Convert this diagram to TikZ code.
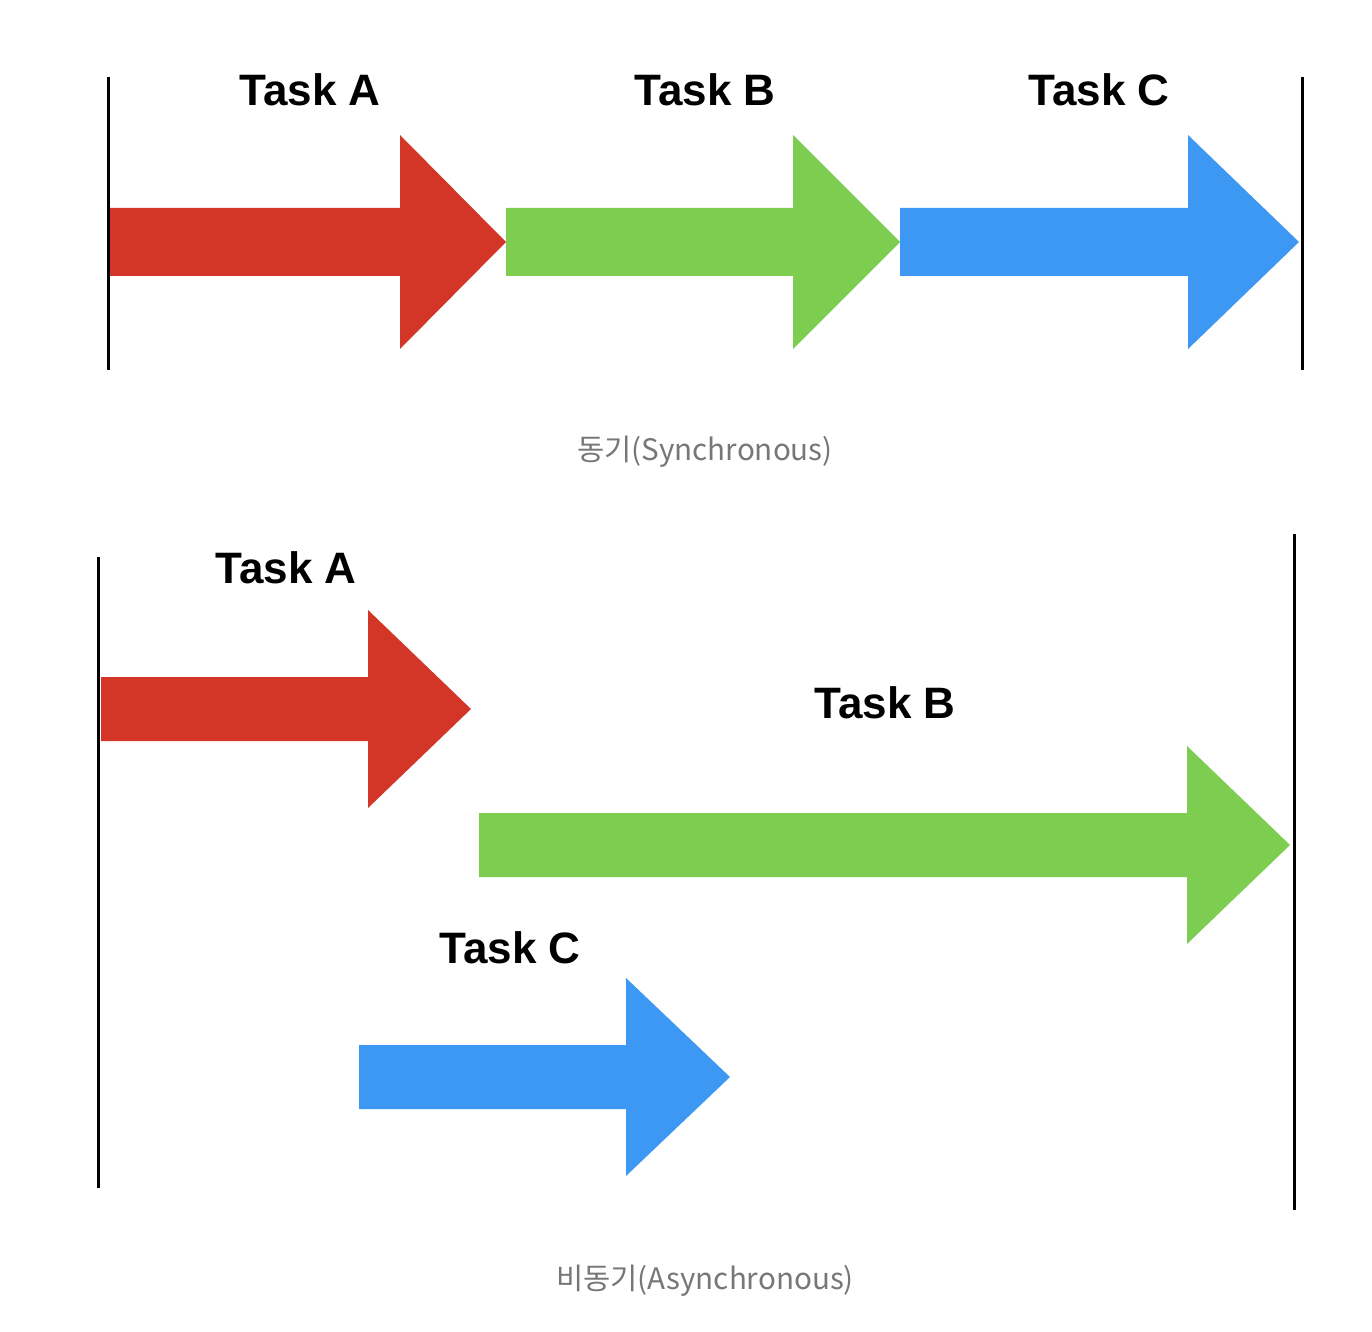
\documentclass[tikz,border=0pt]{standalone}
\usepackage{fontspec}
\setmainfont{Liberation Sans}
\newfontfamily\krfont{Noto Sans CJK KR}
\definecolor{ared}{HTML}{D33527}
\definecolor{agreen}{HTML}{7CCD50}
\definecolor{ablue}{HTML}{3D98F3}
\definecolor{capgray}{HTML}{777777}
\tikzset{
  tasklabel/.style={font=\fontsize{22}{26}\selectfont\bfseries, text=black, inner sep=0pt},
  caplabel/.style={font=\krfont\fontsize{14.8}{17}\selectfont, text=capgray, inner sep=0pt},
  bar/.style={line width=1.5pt, black},
}
% #1 colour, #2 shaft start x, #3 head base x, #4 tip x, #5 centre y, #6 half shaft, #7 half head
\newcommand\fatarrow[7]{%
  \fill[#1] (#2,#5-#6) -- (#3,#5-#6) -- (#3,#5-#7) -- (#4,#5) -- (#3,#5+#7) -- (#3,#5+#6) -- (#2,#5+#6) -- cycle;}
\begin{document}
\begin{tikzpicture}[x=0.5pt,y=-0.5pt]
\useasboundingbox[fill=white] (0,0) rectangle (1372,1332);
% ---- synchronous ----
\fatarrow{ared}{108}{400}{506}{242}{34}{107}
\fatarrow{agreen}{506}{793}{900}{242}{34}{107}
\fatarrow{ablue}{900}{1188}{1299}{242}{34}{107}
\coordinate (s1t) at (108,77); \coordinate (s1b) at (108,370);
\coordinate (s2t) at (1302,77); \coordinate (s2b) at (1302,370);
\draw[bar] (s1t) -- (s1b);
\draw[bar] (s2t) -- (s2b);
\node[tasklabel] (sA) at (310,90) {Task A};
\node[tasklabel] (sB) at (705,90) {Task B};
\node[tasklabel] (sC) at (1099,90) {Task C};
\node[caplabel] (scap) at (705,452) {동기(Synchronous)};
% ---- asynchronous ----
\fatarrow{ared}{101}{368}{471}{709}{32}{99}
\fatarrow{agreen}{479}{1187}{1290}{845}{32}{99}
\fatarrow{ablue}{359}{626}{730}{1077}{32}{99}
\coordinate (a1t) at (98,557); \coordinate (a1b) at (98,1188);
\coordinate (a2t) at (1294,534); \coordinate (a2b) at (1294,1210);
\draw[bar] (a1t) -- (a1b);
\draw[bar] (a2t) -- (a2b);
\node[tasklabel] (aA) at (286,568) {Task A};
\node[tasklabel] (aB) at (885,703) {Task B};
\node[tasklabel] (aC) at (510,948) {Task C};
\node[caplabel] (acap) at (705,1281) {비동기(Asynchronous)};
\end{tikzpicture}
\end{document}
